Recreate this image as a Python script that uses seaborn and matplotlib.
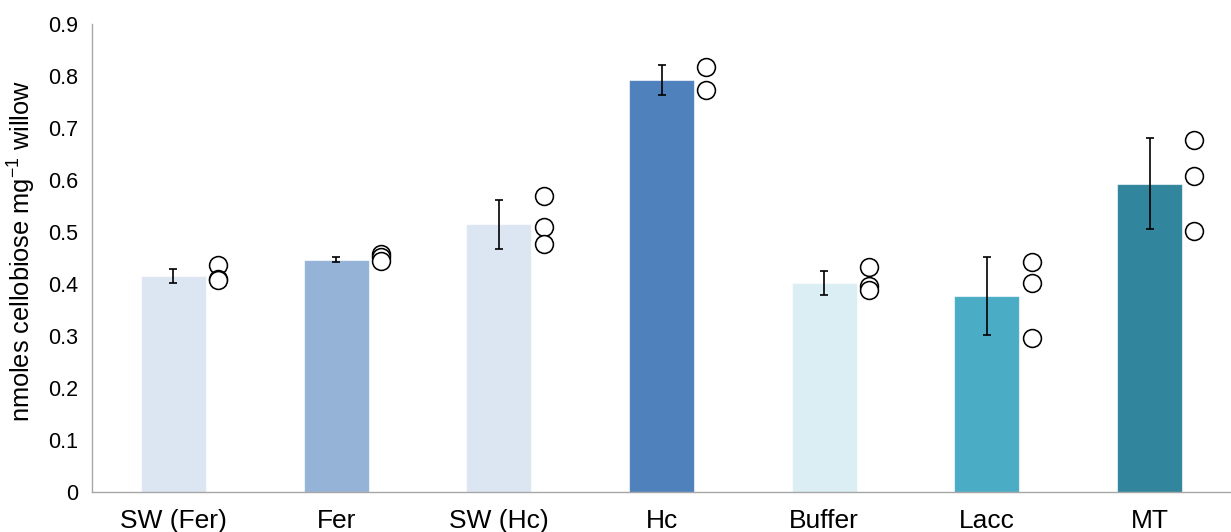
import matplotlib
matplotlib.use("Agg")
import matplotlib.pyplot as plt
import seaborn as sns
import pandas as pd
import numpy as np

# ---------------- data ----------------
categories = ["SW (Fer)", "Fer", "SW (Hc)", "Hc", "Buffer", "Lacc", "MT"]
bar_means = [0.416, 0.447, 0.515, 0.792, 0.402, 0.377, 0.593]
bar_sd = [0.0135, 0.005, 0.047, 0.0295, 0.0235, 0.075, 0.088]
bar_colors = ["#DCE6F2", "#95B3D7", "#DCE6F2", "#4F81BD", "#DAEEF3", "#4BACC6", "#31859C"]

rep_groups = ["SW (Fer)", "SW (Fer)", "SW (Fer)",
              "Fer", "Fer", "Fer",
              "SW (Hc)", "SW (Hc)", "SW (Hc)",
              "Hc", "Hc",
              "Buffer", "Buffer", "Buffer",
              "Lacc", "Lacc", "Lacc",
              "MT", "MT", "MT"]
rep_values = [0.436, 0.410, 0.408,
              0.457, 0.451, 0.445,
              0.570, 0.510, 0.477,
              0.817, 0.774,
              0.433, 0.396, 0.388,
              0.443, 0.401, 0.297,
              0.676, 0.608, 0.502]

y_ticks = [0, 0.1, 0.2, 0.3, 0.4, 0.5, 0.6, 0.7, 0.8, 0.9]
y_tick_labels = ["0", "0.1", "0.2", "0.3", "0.4", "0.5", "0.6", "0.7", "0.8", "0.9"]
y_label = "nmoles cellobiose mg$^{-1}$ willow"

# ---------------- style ----------------
sns.set_style("white")
plt.rcParams["font.family"] = ["Liberation Sans", "DejaVu Sans"]
plt.rcParams["mathtext.fontset"] = "custom"
plt.rcParams["mathtext.rm"] = "Liberation Sans"
plt.rcParams["mathtext.it"] = "Liberation Sans:italic"
plt.rcParams["mathtext.bf"] = "Liberation Sans:bold"
plt.rcParams["mathtext.default"] = "regular"

axis_gray = "#A6A6A6"

fig = plt.figure(figsize=(12.31, 5.32), dpi=100)
ax = fig.add_axes([92 / 1231, 40 / 532, 1139 / 1231, 468 / 532])

df_bars = pd.DataFrame({"treatment": categories, "mean": bar_means, "sd": bar_sd})
sns.barplot(data=df_bars, x="treatment", y="mean", hue="treatment",
            order=categories, hue_order=categories, palette=bar_colors,
            width=0.4, saturation=1, legend=False, errorbar=None,
            edgecolor=(1, 1, 1, 0.6), linewidth=0.8, ax=ax, zorder=2)

ax.errorbar(x=np.arange(len(categories)), y=df_bars["mean"], yerr=df_bars["sd"],
            fmt="none", ecolor="black", elinewidth=1.2, capsize=3, capthick=1.2,
            zorder=4)

df_pts = pd.DataFrame({"treatment": rep_groups, "value": rep_values})
df_pts["pos"] = df_pts["treatment"].map({c: i for i, c in enumerate(categories)}) + 0.2755
sns.scatterplot(data=df_pts, x="pos", y="value", s=165, color="white",
                edgecolor="black", linewidth=1.15, ax=ax, zorder=5, legend=False)

# ---------------- axes ----------------
ax.set_xlim(-0.5, 6.475)
ax.set_ylim(0, 0.9)
ax.set_xlabel("")
ax.set_ylabel(y_label, fontsize=18.3, color="black")
ax.yaxis.set_label_coords(-0.0475, 0.516)

ax.set_yticks(y_ticks)
ax.set_yticklabels(y_tick_labels)
ax.set_xticks(range(len(categories)))
ax.set_xticklabels(categories)
ax.set_xticks(np.arange(-0.5, len(categories), 1.0), minor=True)

ax.tick_params(axis="x", which="major", length=0, pad=12.5, labelsize=19, labelcolor="black")
ax.tick_params(axis="x", which="minor", length=4.2, width=1.0, color=axis_gray, direction="out")
ax.tick_params(axis="y", which="major", length=4.2, width=1.0, color=axis_gray,
               direction="out", pad=6, labelsize=15.5, labelcolor="black")

for side in ["top", "right"]:
    ax.spines[side].set_visible(False)
for side in ["left", "bottom"]:
    ax.spines[side].set_color(axis_gray)
    ax.spines[side].set_linewidth(1.0)

ax.grid(False)
fig.savefig("out.png", dpi=100)
